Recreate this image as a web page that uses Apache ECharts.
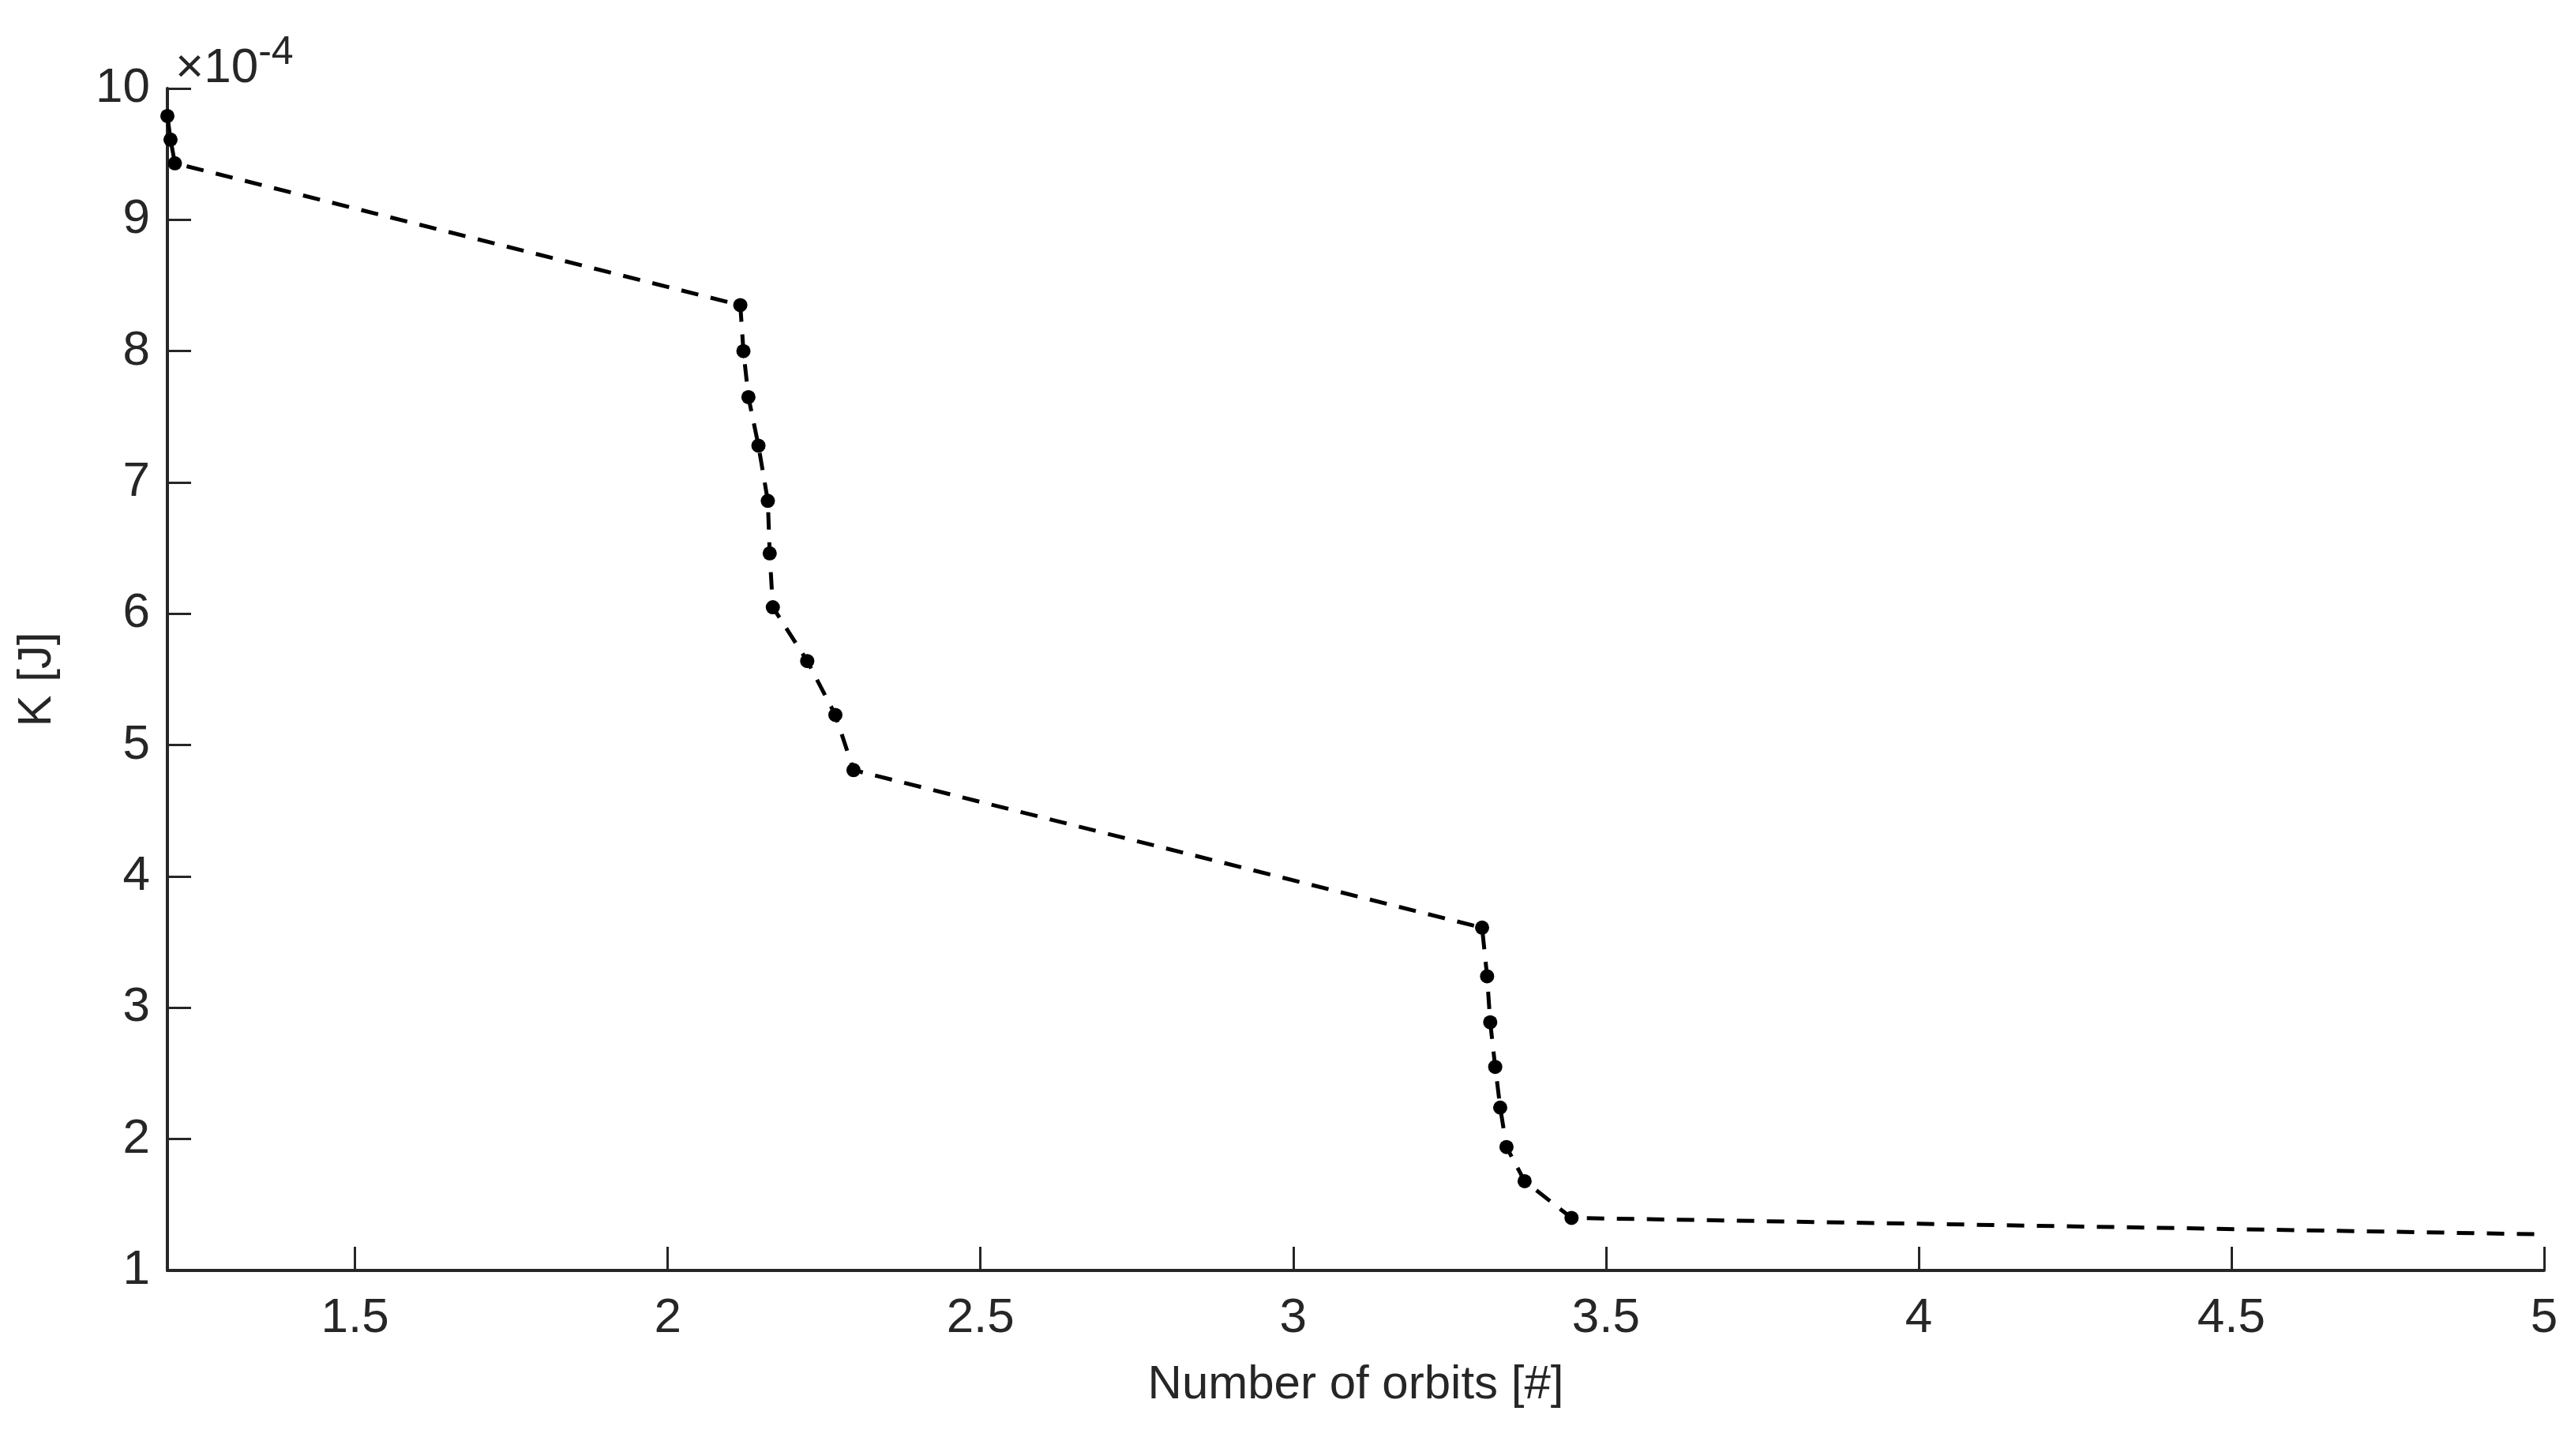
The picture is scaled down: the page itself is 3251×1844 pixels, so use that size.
<!DOCTYPE html>
<html>
<head>
<meta charset="utf-8">
<script src="https://cdn.jsdelivr.net/npm/echarts@6/dist/echarts.min.js"></script>
<style>html,body{margin:0;background:#fff}#container{width:3251px;height:1844px}</style>
</head>
<body>
<div id="container"></div>
<script>
// orbits vs kinetic energy (K in units of 1e-4 J)
var orbits = [1.2, 1.205, 1.212, 2.116, 2.121, 2.129, 2.145, 2.16, 2.163, 2.168, 2.223, 2.268, 2.297,
	3.302, 3.31, 3.315, 3.323, 3.331, 3.341, 3.37, 3.445, 5.0];
var energy = [9.79, 9.61, 9.43, 8.35, 8.0, 7.65, 7.28, 6.86, 6.46, 6.05, 5.64, 5.23, 4.81,
	3.61, 3.24, 2.89, 2.55, 2.24, 1.94, 1.68, 1.40, 1.275];
var xTicks = [1.5, 2, 2.5, 3, 3.5, 4, 4.5, 5];
var yTicks = [1, 2, 3, 4, 5, 6, 7, 8, 9, 10];

var myChart = echarts.init(document.getElementById("container"));
var font = 'Liberation Sans, Arial, sans-serif';
var txt = '#262626';

var data = [];
for (var i = 0; i < orbits.length; i++) {
	var p = {value: [orbits[i], energy[i]]};
	if (i === orbits.length - 1) p.symbol = 'none'; // last point has no marker
	data.push(p);
}

var option = {
	animation: false,
	grid: {left: 212, right: 29, top: 112, bottom: 235},
	xAxis: {
		type: 'value', min: 1.2, max: 5,
		name: 'Number of orbits [#]', nameLocation: 'middle', nameGap: 115,
		nameTextStyle: {fontFamily: font, fontSize: 60, color: txt},
		axisLine: {show: true, lineStyle: {color: txt, width: 4}},
		axisTick: {show: true, inside: true, length: 30, lineStyle: {color: txt, width: 3},
			customValues: xTicks},
		axisLabel: {fontFamily: font, fontSize: 62, color: txt, margin: 30,
			customValues: xTicks, formatter: function (v) { return String(v); }},
		splitLine: {show: false}
	},
	yAxis: {
		type: 'value', min: 1, max: 10, interval: 1,
		name: 'K [J]', nameLocation: 'middle', nameGap: 135, nameRotate: 90,
		nameTextStyle: {fontFamily: font, fontSize: 60, color: txt},
		axisLine: {show: true, lineStyle: {color: txt, width: 4}},
		axisTick: {show: true, inside: true, length: 30, lineStyle: {color: txt, width: 3}},
		axisLabel: {fontFamily: font, fontSize: 62, color: txt, margin: 22,
			customValues: yTicks},
		splitLine: {show: false}
	},
	graphic: [{
		type: 'text', left: 222, top: 42,
		style: {
			text: '×10{s|-4}', fontFamily: font, fontSize: 62, fill: txt,
			rich: {s: {fontFamily: font, fontSize: 50, fill: txt, verticalAlign: 'top', padding: [0, 0, 40, 0]}}
		}
	}],
	series: [{
		type: 'line', data: data,
		symbol: 'circle', symbolSize: 18,
		itemStyle: {color: '#000'},
		lineStyle: {color: '#000', width: 5, type: [22, 16]},
		clip: false
	}]
};
myChart.setOption(option);
</script>
</body>
</html>
